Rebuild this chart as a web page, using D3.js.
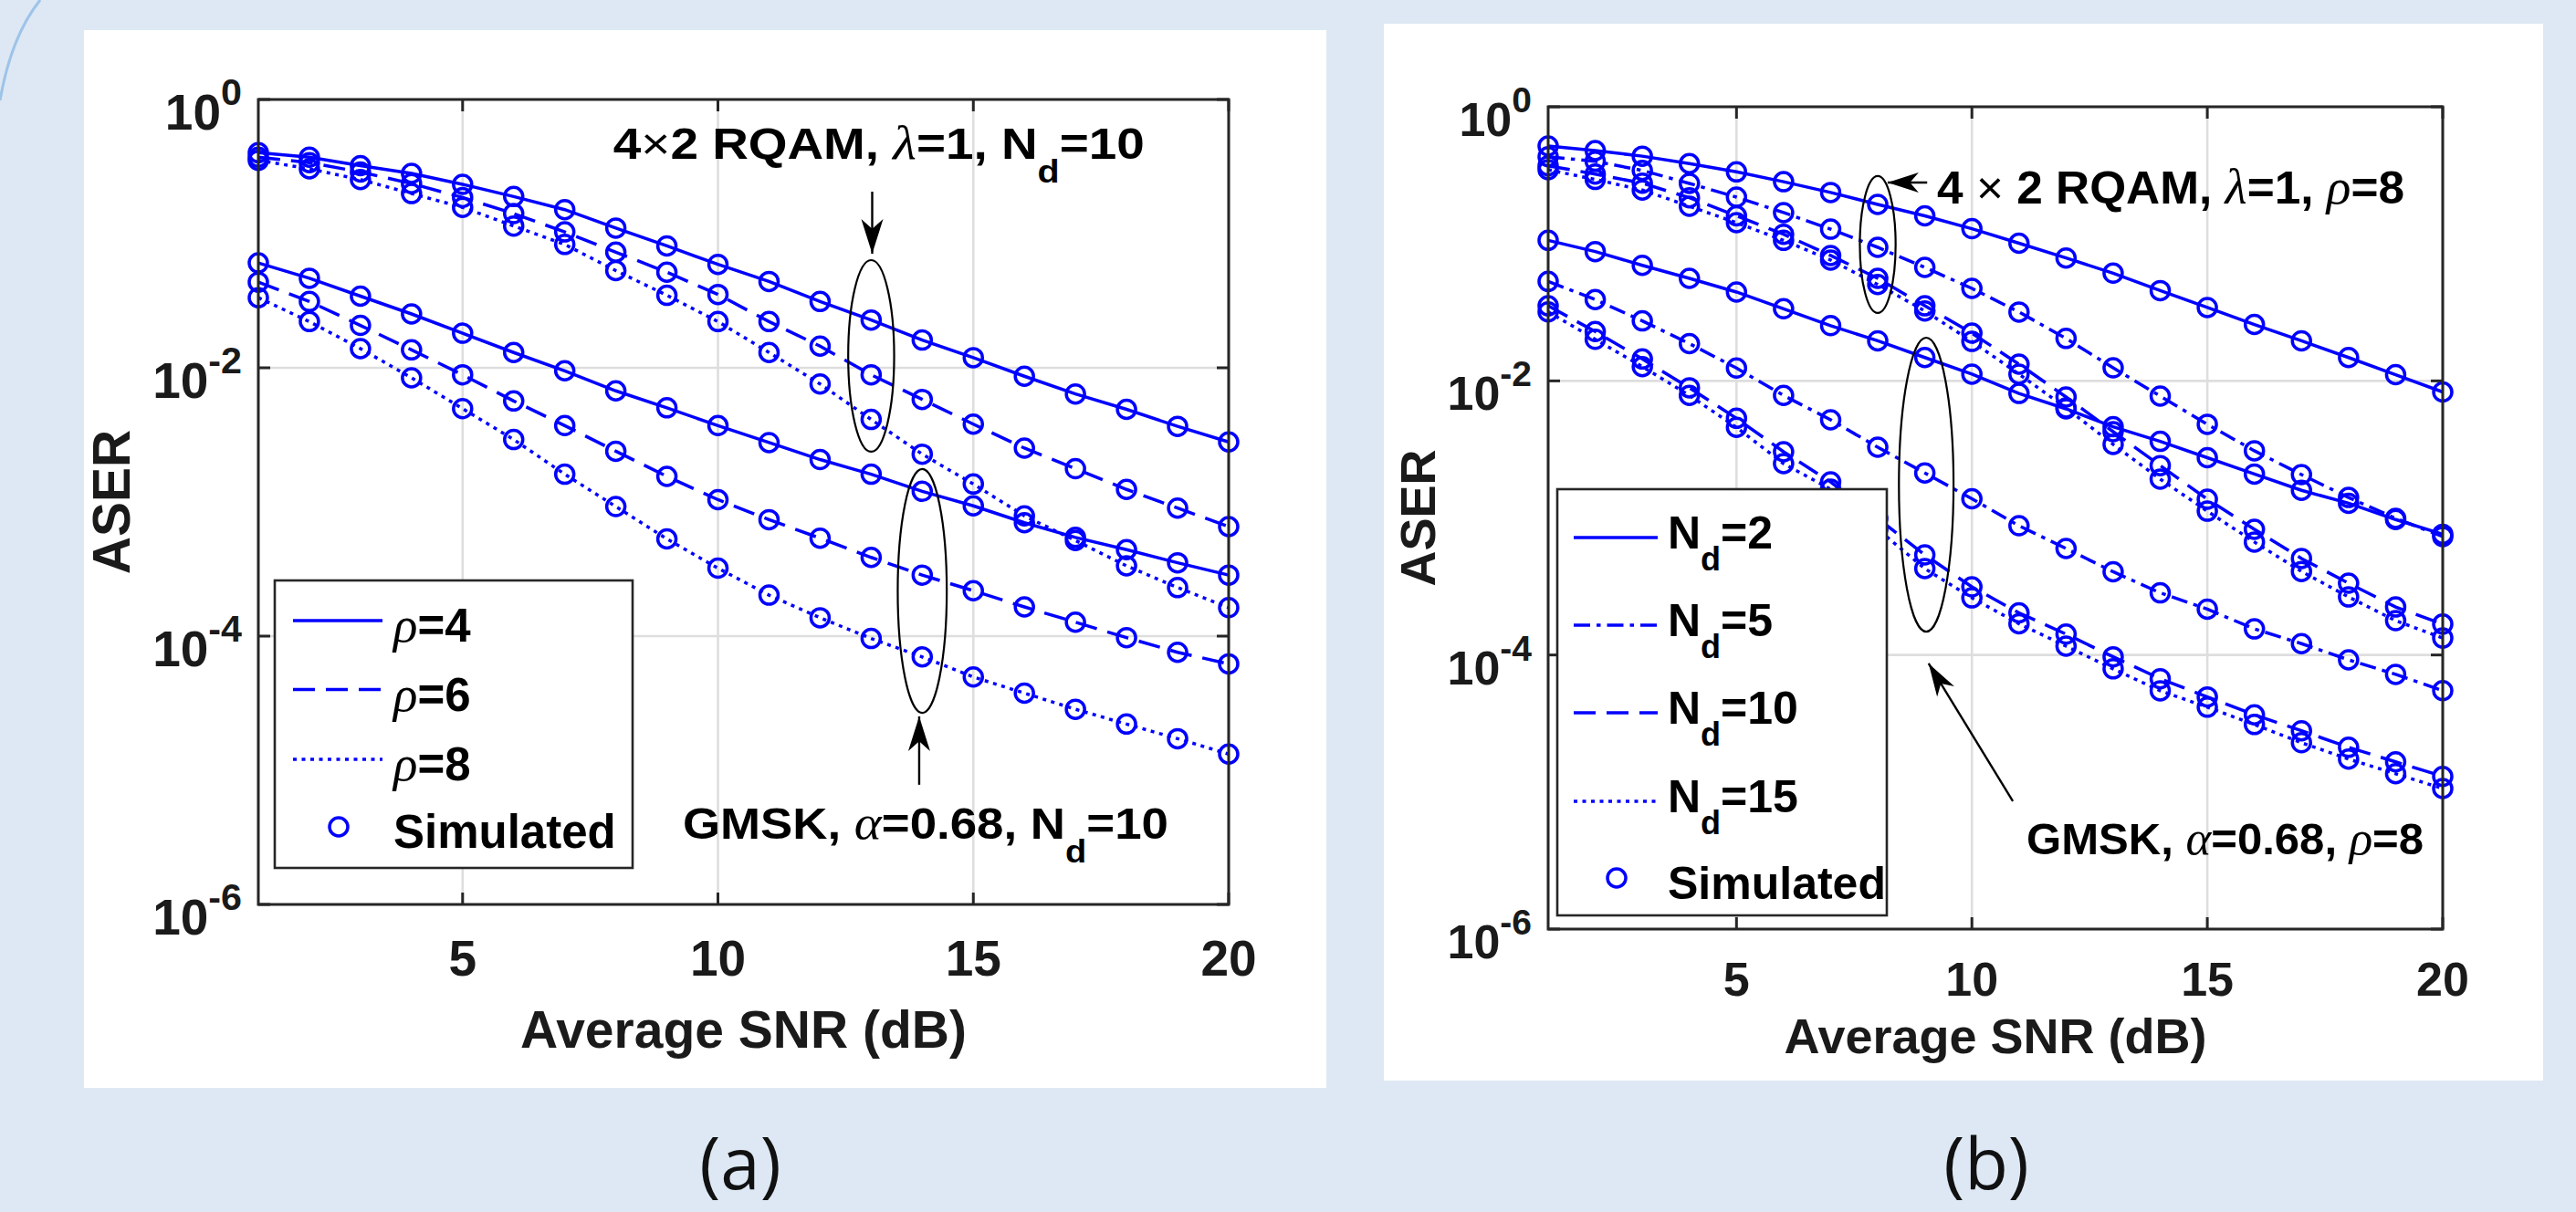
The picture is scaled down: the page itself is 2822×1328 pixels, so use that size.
<!DOCTYPE html>
<html><head><meta charset="utf-8">
<script src="https://cdn.jsdelivr.net/npm/d3@7"></script>
<style>
html,body{margin:0;padding:0;background:#dde8f4;}
svg{display:block}
</style></head><body>
<svg id="c" width="2822" height="1328"></svg>
<script>
// ---------------- data ----------------
const snrDb = [1,2,3,4,5,6,7,8,9,10,11,12,13,14,15,16,17,18,19,20];
const xTickValues = [5,10,15,20];
const yTickValues = [1,1e-2,1e-4,1e-6];
const yTickExponents = ["0","-2","-4","-6"];

// panel (a): 4x2 RQAM (upper) and GMSK (lower), rho = 4, 6, 8, Nd = 10
const aRqamRho4 = [0.401,0.371,0.321,0.281,0.233,0.189,0.151,0.110,0.081,0.059,0.044,0.0312,0.0227,0.0161,0.0119,0.00865,0.00638,0.0049,0.00366,0.0028];
const aRqamRho6 = [0.371,0.338,0.288,0.236,0.186,0.141,0.103,0.0728,0.0516,0.0352,0.0221,0.0145,0.00887,0.00581,0.0038,0.00252,0.00177,0.00124,0.0009,0.000655];
const aRqamRho8 = [0.352,0.304,0.253,0.199,0.157,0.114,0.0831,0.053,0.0347,0.0221,0.013,0.00757,0.00412,0.00227,0.00136,0.000788,0.000516,0.000334,0.00023,0.000163];
const aGmskRho4 = [0.0605,0.0465,0.0342,0.0252,0.0181,0.013,0.0095,0.00673,0.00503,0.00371,0.00277,0.00207,0.00161,0.0012,0.000935,0.0007,0.000544,0.000441,0.000352,0.000285];
const aGmskRho6 = [0.0435,0.0312,0.0207,0.0136,0.00887,0.00566,0.00371,0.00239,0.00155,0.00104,0.000738,0.000537,0.000386,0.000285,0.000218,0.000165,0.000127,9.74e-5,7.57e-5,6.21e-5];
const aGmskRho8 = [0.0333,0.0221,0.0139,0.00842,0.00496,0.00292,0.00161,0.000924,0.00053,0.000321,0.000202,0.000137,9.6e-5,7.0e-5,4.96e-5,3.76e-5,2.85e-5,2.21e-5,1.72e-5,1.32e-5];

// panel (b): rho = 8, Nd = 2, 5, 10, 15
const bRqamNd2  = [0.517,0.479,0.436,0.385,0.335,0.284,0.237,0.194,0.160,0.129,0.101,0.0788,0.0611,0.0456,0.0343,0.0258,0.0196,0.0148,0.0111,0.0083];
const bRqamNd5  = [0.432,0.400,0.343,0.276,0.219,0.169,0.128,0.0943,0.0673,0.0473,0.0318,0.0204,0.01245,0.00774,0.00482,0.00309,0.00207,0.00141,0.000993,0.000731];
const bRqamNd10 = [0.371,0.323,0.277,0.217,0.160,0.1175,0.0822,0.0560,0.0353,0.0223,0.01324,0.00763,0.00426,0.00241,0.00137,0.000826,0.000506,0.000334,0.000224,0.000168];
const bRqamNd15 = [0.347,0.295,0.247,0.188,0.1426,0.106,0.0761,0.0505,0.0324,0.0194,0.0112,0.00635,0.00344,0.00192,0.00112,0.000667,0.000407,0.000265,0.000178,0.000133];
const bGmskNd2  = [0.106,0.0878,0.0697,0.0560,0.0445,0.0336,0.0253,0.0196,0.0148,0.0112,0.0081,0.00625,0.00463,0.00362,0.00275,0.00209,0.00159,0.00128,0.000973,0.00076];
const bGmskNd5  = [0.0532,0.0392,0.0274,0.0187,0.0124,0.00783,0.0052,0.00328,0.00213,0.00138,0.000877,0.000598,0.000405,0.000284,0.000216,0.000155,0.000121,9.22e-5,7.22e-5,5.49e-5];
const bGmskNd10 = [0.0353,0.0229,0.01445,0.0089,0.00533,0.00304,0.00183,0.000993,0.000537,0.000314,0.000203,0.000142,9.7e-5,6.71e-5,4.94e-5,3.66e-5,2.8e-5,2.12e-5,1.66e-5,1.3e-5];
const bGmskNd15 = [0.0319,0.0201,0.0127,0.00783,0.00458,0.00249,0.00162,0.000826,0.000427,0.000261,0.000169,0.000116,7.92e-5,5.48e-5,4.16e-5,3.11e-5,2.29e-5,1.74e-5,1.36e-5,1.06e-5];

const aLegendLabels = [["ρ","=4"],["ρ","=6"],["ρ","=8"]];
const bLegendLabels = [["N","d","=2"],["N","d","=5"],["N","d","=10"],["N","d","=15"]];

// ---------------- styles / layout ----------------
const BLUE = "#0000ff";
const SANS = "'Liberation Sans', Arial, Helvetica, sans-serif";
const SERIF = "'Liberation Serif', 'Times New Roman', serif";
const DASH = {solid:null, dash:"24 12", dot:"4 5.5", dashdot:"18 7 4.5 7"};
const LW = 3.5, MR = 10;

const svg = d3.select("#c");

// decorative arc at top-left
svg.append("path").attr("d","M44,0 Q12,40 0,110").attr("fill","none")
  .attr("stroke","#9ec3e8").attr("stroke-width",3);

function richText(g, x, y, parts, size, opts={}) {
  const t = g.append("text").attr("x",x).attr("y",y)
    .attr("font-family",SANS).attr("font-weight","bold")
    .attr("font-size",size).attr("fill", opts.fill||"#000");
  if (opts.anchor) t.attr("text-anchor",opts.anchor);
  let shift = 0;
  parts.forEach(p => {
    const ts = t.append("tspan").text(p.t);
    let want = 0;
    if (p.k === "greek") ts.attr("font-family",SERIF).attr("font-style","italic").attr("font-weight","normal").attr("font-size",size*1.08);
    if (p.k === "thin") ts.attr("font-weight","normal");
    if (p.k === "sub") { ts.attr("font-size",size*0.72); want = opts.sub || size*0.56; }
    if (p.k === "sup") { ts.attr("font-size",size*0.75); want = -(opts.sup || size*0.5); }
    if (want !== shift) { ts.attr("dy", want - shift); shift = want; }
  });
  if (opts.len) t.attr("textLength",opts.len).attr("lengthAdjust","spacingAndGlyphs");
  return t;
}

function drawArrow(g, x1,y1,x2,y2, len, hw) {
  g.append("line").attr("x1",x1).attr("y1",y1).attr("x2",x2).attr("y2",y2)
    .attr("stroke","#000").attr("stroke-width",2.4);
  const a = Math.atan2(y2-y1,x2-x1), c=Math.cos(a), s=Math.sin(a);
  const bx = x2 - len*c, by = y2 - len*s;
  const nx = x2 - len*0.72*c, ny = y2 - len*0.72*s;
  const pts = [[x2,y2],[bx - hw*s, by + hw*c],[nx,ny],[bx + hw*s, by - hw*c]];
  g.append("polygon").attr("points",pts.map(p=>p.join(",")).join(" ")).attr("fill","#000");
}

function drawPanel(cfg) {
  const g = svg.append("g");
  g.append("rect").attr("x",cfg.panel[0]).attr("y",cfg.panel[1])
    .attr("width",cfg.panel[2]).attr("height",cfg.panel[3]).attr("fill","#fff");

  const x = d3.scaleLinear().domain([1,20]).range([cfg.left,cfg.right]);
  const y = d3.scaleLog().domain([1e-6,1]).range([cfg.bottom,cfg.top]);

  // grid
  g.append("g").selectAll("line").data(xTickValues).join("line")
    .attr("x1",d=>x(d)).attr("x2",d=>x(d)).attr("y1",cfg.top).attr("y2",cfg.bottom)
    .attr("stroke","#dedede").attr("stroke-width",2.6);
  g.append("g").selectAll("line").data(yTickValues).join("line")
    .attr("y1",d=>y(d)).attr("y2",d=>y(d)).attr("x1",cfg.left).attr("x2",cfg.right)
    .attr("stroke","#dedede").attr("stroke-width",2.6);

  // curves
  const line = d3.line().x((d,i)=>x(snrDb[i])).y(d=>y(d));
  cfg.series.forEach(s => {
    g.append("path").datum(s.values).attr("d",line).attr("fill","none")
      .attr("stroke",BLUE).attr("stroke-width",LW)
      .attr("stroke-dasharray",DASH[s.style]);
  });
  cfg.series.forEach(s => {
    g.append("g").selectAll("circle").data(s.values).join("circle")
      .attr("cx",(d,i)=>x(snrDb[i])).attr("cy",d=>y(d)).attr("r",MR)
      .attr("fill","none").attr("stroke",BLUE).attr("stroke-width",LW);
  });

  // axes box and ticks
  const AX = "#262626", TL = 13;
  g.append("rect").attr("x",cfg.left).attr("y",cfg.top)
    .attr("width",cfg.right-cfg.left).attr("height",cfg.bottom-cfg.top)
    .attr("fill","none").attr("stroke",AX).attr("stroke-width",3);
  xTickValues.forEach(v => {
    g.append("line").attr("x1",x(v)).attr("x2",x(v)).attr("y1",cfg.bottom).attr("y2",cfg.bottom-TL).attr("stroke",AX).attr("stroke-width",3);
    g.append("line").attr("x1",x(v)).attr("x2",x(v)).attr("y1",cfg.top).attr("y2",cfg.top+TL).attr("stroke",AX).attr("stroke-width",3);
    g.append("text").attr("x",x(v)).attr("y",cfg.bottom+cfg.xTickDy).attr("text-anchor","middle")
      .attr("font-family",SANS).attr("font-weight","bold").attr("font-size",cfg.tickSize)
      .attr("fill","#1a1a1a").text(v);
  });
  yTickValues.forEach((v,i) => {
    g.append("line").attr("y1",y(v)).attr("y2",y(v)).attr("x1",cfg.left).attr("x2",cfg.left+TL).attr("stroke",AX).attr("stroke-width",3);
    g.append("line").attr("y1",y(v)).attr("y2",y(v)).attr("x1",cfg.right).attr("x2",cfg.right-TL).attr("stroke",AX).attr("stroke-width",3);
    richText(g, cfg.left-18, y(v)+cfg.yTickDy, [{t:"10"},{t:yTickExponents[i],k:"sup"}],
      cfg.tickSize, {anchor:"end", sup:cfg.supRaise, fill:"#1a1a1a"});
  });

  // axis labels
  g.append("text").attr("x",(cfg.left+cfg.right)/2).attr("y",cfg.xLabelY).attr("text-anchor","middle")
    .attr("font-family",SANS).attr("font-weight","bold").attr("font-size",cfg.labelSize)
    .attr("fill","#1a1a1a").text("Average SNR (dB)");
  g.append("text").attr("transform",`translate(${cfg.yLabelX},${(cfg.top+cfg.bottom)/2}) rotate(-90)`)
    .attr("text-anchor","middle").attr("font-family",SANS).attr("font-weight","bold")
    .attr("font-size",cfg.labelSize).attr("fill","#1a1a1a").text("ASER");

  // legend
  const L = cfg.legend;
  g.append("rect").attr("x",L.box[0]).attr("y",L.box[1]).attr("width",L.box[2]).attr("height",L.box[3])
    .attr("fill","#fff").attr("stroke",AX).attr("stroke-width",2.6);
  L.rows.forEach((r,i) => {
    const ry = L.box[1] + L.rowY[i];
    g.append("line").attr("x1",L.box[0]+L.lineX[0]).attr("x2",L.box[0]+L.lineX[1])
      .attr("y1",ry).attr("y2",ry).attr("stroke",BLUE).attr("stroke-width",LW)
      .attr("stroke-dasharray",DASH[r.style]);
    richText(g, L.box[0]+L.textX, ry+L.textDy, r.parts, L.size, {sub:L.sub});
  });
  const my = L.box[1] + L.markerY;
  g.append("circle").attr("cx",L.box[0]+L.markerX).attr("cy",my).attr("r",MR)
    .attr("fill","none").attr("stroke",BLUE).attr("stroke-width",LW);
  richText(g, L.box[0]+L.textX, my+L.simDy, [{t:"Simulated"}], L.size);

  // annotations (positioned in data units)
  const ann = g.append("g");
  cfg.ellipses.forEach(e => {
    const cx = x(e.x), rx = x(e.x+e.dx)-x(e.x);
    const yt = y(e.y[0]), yb = y(e.y[1]);
    ann.append("ellipse").attr("cx",cx).attr("cy",(yt+yb)/2).attr("rx",rx).attr("ry",(yb-yt)/2)
      .attr("fill","none").attr("stroke","#000").attr("stroke-width",2.2);
  });
  cfg.arrows.forEach(a => drawArrow(ann, x(a.from[0]), y(a.from[1]), x(a.to[0]), y(a.to[1]), a.len, a.hw));
  cfg.notes.forEach(n => richText(ann, x(n.x), y(n.y), n.parts, n.size, {sub:n.sub, len:n.len}));
}

const sty3 = ["solid","dash","dot"];
drawPanel({
  panel:[92,33,1361,1159], left:283, right:1346, top:109, bottom:991,
  tickSize:55, labelSize:57, xTickDy:78, yTickDy:33, supRaise:27, xLabelY:1148, yLabelX:142,
  series:[aRqamRho4,aRqamRho6,aRqamRho8,aGmskRho4,aGmskRho6,aGmskRho8].map((v,i)=>({values:v,style:sty3[i%3]})),
  legend:{box:[301,636,392,315], lineX:[20,118], rowY:[44,119.5,196], textX:130, textDy:23,
    markerX:70, markerY:270, simDy:23, size:51, sub:26,
    rows:aLegendLabels.map((l,i)=>({style:sty3[i], parts:[{t:l[0],k:"greek"},{t:l[1]}]}))},
  ellipses:[{x:13,dx:0.45,y:[0.0635,0.00237]},{x:14,dx:0.48,y:[0.00176,2.68e-5]}],
  arrows:[{from:[13.02,0.2056],to:[13.02,0.0708],len:38,hw:12},{from:[13.94,7.8e-6],to:[13.94,2.52e-5],len:38,hw:12}],
  notes:[
    {x:7.95,y:0.361,size:48,sub:26,len:582,parts:[{t:"4"},{t:"×",k:"thin"},{t:"2 RQAM, "},{t:"λ",k:"greek"},{t:"=1, N"},{t:"d",k:"sub"},{t:"=10"}]},
    {x:9.31,y:3.09e-6,size:48,sub:26,len:532,parts:[{t:"GMSK, "},{t:"α",k:"greek"},{t:"=0.68, N"},{t:"d",k:"sub"},{t:"=10"}]}
  ]
});

const sty4 = ["solid","dashdot","dash","dot"];
drawPanel({
  panel:[1516,26,1270,1158], left:1696, right:2676, top:117, bottom:1018,
  tickSize:52, labelSize:54, xTickDy:73, yTickDy:32, supRaise:26, xLabelY:1154, yLabelX:1572,
  series:[bRqamNd2,bRqamNd5,bRqamNd10,bRqamNd15,bGmskNd2,bGmskNd5,bGmskNd10,bGmskNd15].map((v,i)=>({values:v,style:sty4[i%4]})),
  legend:{box:[1706,536,361,467], lineX:[18,110], rowY:[53,149,245,342], textX:121, textDy:12,
    markerX:65, markerY:426, simDy:23, size:50, sub:24,
    rows:bLegendLabels.map((l,i)=>({style:sty4[i], parts:[{t:l[0]},{t:l[1],k:"sub"},{t:l[2]}]}))},
  ellipses:[{x:8,dx:0.38,y:[0.312,0.0313]},{x:9.03,dx:0.58,y:[0.02066,1.48e-4]}],
  arrows:[{from:[9.05,0.28],to:[8.21,0.28],len:34,hw:11},{from:[10.87,8.56e-6],to:[9.08,8.67e-5],len:36,hw:11}],
  notes:[
    {x:9.26,y:0.197,size:50,len:512,parts:[{t:"4 "},{t:"×",k:"thin"},{t:" 2 RQAM, "},{t:"λ",k:"greek"},{t:"=1, "},{t:"ρ",k:"greek"},{t:"=8"}]},
    {x:11.16,y:3.52e-6,size:48,len:435,parts:[{t:"GMSK, "},{t:"α",k:"greek"},{t:"=0.68, "},{t:"ρ",k:"greek"},{t:"=8"}]}
  ]
});

// sub-figure captions
svg.append("text").attr("x",811).attr("y",1303).attr("text-anchor","middle")
  .attr("font-family","'Open Sans', Lato, sans-serif").attr("font-size",78).attr("fill","#111").text("(a)");
svg.append("text").attr("x",2176).attr("y",1303).attr("text-anchor","middle")
  .attr("font-family","'Open Sans', Lato, sans-serif").attr("font-size",78).attr("fill","#111").text("(b)");
</script>
</body></html>
